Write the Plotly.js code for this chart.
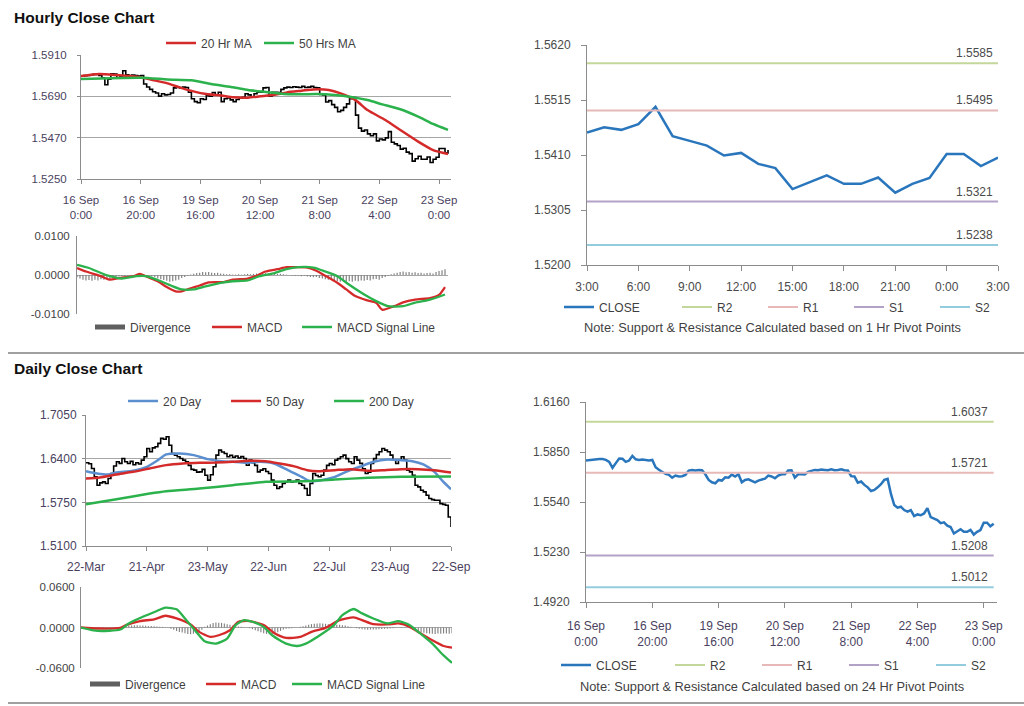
<!DOCTYPE html>
<html><head><meta charset="utf-8">
<script src="https://cdn.plot.ly/plotly-3.0.1.min.js"></script>
<style>html,body{margin:0;padding:0;background:#fff}#chart{width:1024px;height:706px}</style>
</head><body><div id="chart"></div>
<script>
// ---------------- DATA ----------------
// Hourly closes, 16 Sep 0:00 -> 23 Sep 3:00 (trading hours, weekend skipped)
const hourlyClose = [
1.5797,1.5800,1.5801,1.5804,1.5807,1.5806,1.5801,1.5788,1.5752,1.5781,1.5810,1.5808,1.5789,
1.5797,1.5826,1.5805,1.5801,1.5803,1.5800,1.5798,1.5801,1.5756,1.5740,1.5727,1.5714,1.5708,
1.5691,1.5704,1.5698,1.5700,1.5708,1.5735,1.5739,1.5735,1.5739,1.5737,1.5712,1.5677,1.5662,
1.5656,1.5677,1.5673,1.5693,1.5691,1.5710,1.5698,1.5712,1.5662,1.5677,1.5681,1.5671,1.5662,
1.5673,1.5681,1.5685,1.5704,1.5698,1.5687,1.5704,1.5712,1.5712,1.5735,1.5737,1.5691,1.5712,
1.5712,1.5710,1.5727,1.5735,1.5739,1.5737,1.5741,1.5739,1.5737,1.5743,1.5737,1.5739,1.5743,
1.5737,1.5735,1.5700,1.5698,1.5660,1.5667,1.5646,1.5631,1.5608,1.5615,1.5631,1.5650,1.5677,
1.5683,1.5590,1.5521,1.5505,1.5511,1.5490,1.5480,1.5490,
1.5453,1.5463,1.5458,1.5469,1.5502,1.5446,1.5437,1.5428,1.5409,1.5414,1.5393,1.5385,1.5345,
1.5358,1.5371,1.5355,1.5355,1.5367,1.5338,1.5355,1.5366,1.5412,1.5412,1.5389,1.5405];
const hourlyTickText = ['16 Sep<br>0:00','16 Sep<br>20:00','19 Sep<br>16:00','20 Sep<br>12:00','21 Sep<br>8:00','22 Sep<br>4:00','23 Sep<br>0:00'];
const hourlyTickIdx = [0,20,40,60,80,100,120];
const hourlyYTicks = [1.5250,1.5470,1.5690,1.5910];

const hMa20X = [0,6,12,20,24,29,33,38,42,47,51,56,60,65,69,74,78,83,87,92,96,102,107,113,118,123];
const hMa20  = [1.5798,1.5809,1.5803,1.5791,1.5777,1.5759,1.5738,1.5715,1.5702,1.5694,1.5685,1.5683,1.5690,1.5699,1.5711,1.5720,1.5727,1.5724,1.5706,1.5670,1.5617,1.5564,1.5511,1.5449,1.5404,1.5383];
const hMa50X = [0,20,29,37,44,51,56,62,68,74,79,85,90,96,101,107,113,118,123];
const hMa50  = [1.5782,1.5789,1.5780,1.5775,1.5754,1.5738,1.5724,1.5713,1.5702,1.5701,1.5702,1.5697,1.5688,1.5670,1.5647,1.5621,1.5582,1.5543,1.5511];

const hourlyDiv = [
-0.0006,-0.0009,-0.0012,-0.0014,-0.0013,-0.0015,-0.0012,-0.0014,-0.0011,-0.0012,-0.0009,-0.0010,-0.0007,
-0.0005,-0.0004,-0.0003,-0.0004,-0.0002,-0.0001,-0.0002,0.0001,0.0002,0.0001,-0.0001,-0.0002,-0.0004,
-0.0006,-0.0009,-0.0011,-0.0013,-0.0015,-0.0017,-0.0016,-0.0014,-0.0012,-0.0008,-0.0005,-0.0002,0.0001,
0.0003,0.0005,0.0006,0.0008,0.0007,0.0008,0.0006,0.0005,0.0006,0.0004,0.0003,0.0002,0.0002,
0.0001,0.0001,0.0002,0.0001,0.0002,0.0003,0.0002,0.0003,0.0004,0.0005,0.0004,0.0005,0.0004,
0.0005,0.0004,0.0003,0.0003,0.0002,0.0001,0.0000,-0.0001,-0.0002,-0.0001,-0.0003,-0.0002,-0.0004,
-0.0005,-0.0006,-0.0005,-0.0008,-0.0009,-0.0011,-0.0012,-0.0013,-0.0015,-0.0016,-0.0017,-0.0016,-0.0017,
-0.0016,-0.0017,-0.0015,-0.0016,-0.0014,-0.0015,-0.0013,-0.0014,-0.0011,-0.0010,-0.0012,-0.0008,-0.0005,
-0.0002,0.0002,0.0004,0.0006,0.0008,0.0009,0.0007,0.0008,0.0006,0.0007,0.0005,0.0006,0.0004,
0.0005,0.0006,0.0004,0.0008,0.0010,0.0012,0.0015];
const hMacdX = [0,3,8,11,14,19,21,23,27,30,33,35,38,41,44,49,52,57,60,63,67,70,73,77,80,83,87,90,93,97,100,102,106,109,113,118,121,123];
const hMacd  = [0.0018,0.0009,-0.0003,-0.0012,-0.0008,-0.0003,0.0003,-0.0003,-0.0016,-0.0031,-0.0042,-0.0042,-0.0034,-0.0027,-0.0019,-0.0018,-0.0012,-0.0009,-0.0002,0.0009,0.0015,0.0020,0.0020,0.0019,0.0011,-0.0002,-0.0020,-0.0037,-0.0054,-0.0065,-0.0071,-0.0089,-0.0080,-0.0070,-0.0063,-0.0059,-0.0051,-0.0031];
const hSignalX = [0,4,8,11,15,20,23,28,32,35,39,43,48,52,57,61,66,70,74,79,83,87,91,96,100,104,109,113,118,123];
const hSignal  = [0.0026,0.0018,0.0005,-0.0003,-0.0009,-0.0003,-0.0003,-0.0016,-0.0029,-0.0037,-0.0037,-0.0029,-0.0020,-0.0016,-0.0014,-0.0003,0.0005,0.0015,0.0020,0.0019,0.0009,-0.0003,-0.0025,-0.0050,-0.0067,-0.0080,-0.0080,-0.0071,-0.0063,-0.0050];
const hMacdTicks = [-0.01,0,0.01];
const hMacdTickText = ['-0.0100','0.0000','0.0100'];

// Last 24 hours (22 Sep 3:00 -> 23 Sep 3:00)
const hourTickIdx = [0,3,6,9,12,15,18,21,24];
const hourTickText = ['3:00','6:00','9:00','12:00','15:00','18:00','21:00','0:00','3:00'];
const lastDayYTicks = [1.5200,1.5305,1.5410,1.5515,1.5620];
const pivotNames = ['R2','R1','S1','S2'];
const pivotHourly = [1.5585,1.5495,1.5321,1.5238];
const pivotDaily  = [1.6037,1.5721,1.5208,1.5012];
const weekYTicks = [1.4920,1.5230,1.5540,1.5850,1.6160];

// Daily closes, 22-Mar -> 22-Sep
const dailyClose = [
1.6339,1.6325,1.6253,1.6130,1.6005,1.6040,1.6055,1.6030,1.6105,1.6179,1.6290,1.6353,1.6330,1.6403,
1.6353,1.6329,1.6360,1.6310,1.6340,1.6320,1.6378,1.6428,1.6552,1.6503,1.6560,1.6577,1.6627,1.6702,
1.6690,1.6726,1.6600,1.6478,1.6450,1.6428,1.6403,1.6378,1.6353,1.6300,1.6240,1.6229,1.6200,1.6204,
1.6240,1.6154,1.6080,1.6160,1.6279,1.6453,1.6527,1.6500,1.6478,1.6428,1.6450,1.6420,1.6440,1.6410,
1.6430,1.6403,1.6303,1.6378,1.6340,1.6300,1.6204,1.6229,1.6250,1.6210,1.6179,1.6080,1.6005,1.5955,
1.5980,1.6030,1.6055,1.6080,1.6055,1.6060,1.6080,1.6030,1.6005,1.5955,1.5856,1.6030,1.6179,1.6150,
1.6130,1.6154,1.6229,1.6300,1.6329,1.6310,1.6378,1.6400,1.6428,1.6453,1.6400,1.6353,1.6329,1.6428,
1.6378,1.6330,1.6250,1.6179,1.6200,1.6329,1.6400,1.6460,1.6503,1.6552,1.6527,1.6503,1.6453,1.6378,
1.6329,1.6380,1.6428,1.6378,1.6229,1.6204,1.6154,1.6005,1.5980,1.5930,1.5906,1.5856,1.5806,1.5790,
1.5781,1.5781,1.5731,1.5720,1.5706,1.5532,1.5383];
const dailyTickText = ['22-Mar','21-Apr','23-May','22-Jun','22-Jul','23-Aug','22-Sep'];
const dailyTickIdx = [0,22,44,66,88,110,132];
const dailyYTicks = [1.5100,1.5750,1.6400,1.7050];

const d20X = [0,4,8,11,17,22,26,29,34,39,44,49,53,58,63,68,73,78,81,85,90,94,99,104,109,114,118,122,126,129,132];
const d20  = [1.6214,1.6179,1.6164,1.6194,1.6219,1.6279,1.6378,1.6463,1.6478,1.6453,1.6393,1.6363,1.6353,1.6339,1.6353,1.6328,1.6229,1.6130,1.6065,1.6080,1.6130,1.6204,1.6279,1.6353,1.6388,1.6378,1.6363,1.6314,1.6204,1.6065,1.5945];
const d50X = [0,5,11,17,23,29,35,41,47,53,59,65,70,75,80,84,90,96,102,108,114,120,126,132];
const d50  = [1.6105,1.6120,1.6164,1.6204,1.6254,1.6304,1.6328,1.6339,1.6343,1.6353,1.6368,1.6363,1.6328,1.6289,1.6229,1.6214,1.6229,1.6244,1.6219,1.6229,1.6244,1.6244,1.6229,1.6194];
const d200X = [0,11,23,29,41,53,65,78,90,102,114,132];
const d200  = [1.5722,1.5796,1.5881,1.5916,1.5955,1.6005,1.6055,1.6065,1.6090,1.6115,1.6130,1.6135];

const dailyDiv = [
-0.0015,-0.0020,-0.0025,-0.0022,-0.0028,-0.0025,-0.0020,-0.0022,-0.0018,-0.0015,-0.0012,-0.0010,-0.0008,-0.0005,
0.0005,0.0010,0.0018,0.0025,0.0030,0.0032,0.0035,0.0030,0.0028,0.0025,0.0020,0.0022,0.0018,0.0015,0.0012,0.0010,0.0005,0.0000,
-0.0020,-0.0035,-0.0050,-0.0065,-0.0075,-0.0085,-0.0095,-0.0100,-0.0092,-0.0080,-0.0060,-0.0035,
0.0010,0.0030,0.0050,0.0065,0.0075,0.0072,0.0068,0.0060,0.0050,0.0040,0.0030,
0.0020,0.0015,0.0010,0.0005,0.0000,-0.0010,-0.0025,-0.0040,-0.0055,-0.0070,-0.0085,
-0.0095,-0.0100,-0.0095,-0.0085,-0.0070,-0.0050,-0.0030,
-0.0020,-0.0015,-0.0010,-0.0005,0.0000,0.0010,
0.0020,0.0030,0.0040,0.0050,0.0055,0.0060,0.0062,0.0058,0.0055,0.0050,0.0048,
0.0045,0.0042,0.0040,0.0035,0.0030,0.0020,0.0010,0.0000,
-0.0010,-0.0020,-0.0025,-0.0030,-0.0032,-0.0030,-0.0028,-0.0030,-0.0025,-0.0022,-0.0020,-0.0018,-0.0015,-0.0010,-0.0005,
0.0000,0.0005,0.0003,0.0000,-0.0010,
-0.0030,-0.0045,-0.0060,-0.0070,-0.0078,-0.0085,-0.0090,-0.0092,-0.0095,-0.0090,-0.0093,-0.0088,-0.0090,-0.0092,-0.0085];
const dMacdX = [0,6,14,16,21,26,30,34,39,42,46,49,53,56,60,65,69,73,78,82,87,92,97,100,104,109,113,117,120,125,129,132];
const dMacd  = [0,-0.0015,-0.0005,0.0035,0.0095,0.0120,0.0174,0.0134,0.0045,-0.0065,-0.0139,-0.0115,-0.0040,0.0085,0.0095,0.0035,-0.0090,-0.0154,-0.0139,-0.0065,-0.0005,0.0110,0.0149,0.0110,0.0050,0.0045,0.0060,0.0010,-0.0065,-0.0189,-0.0274,-0.0299];
const dSignalX = [0,6,14,17,22,27,30,34,37,41,44,48,52,55,58,61,65,68,73,77,80,85,90,93,97,100,104,109,113,117,120,125,129,132];
const dSignal  = [0,-0.0050,-0.0030,0.0060,0.0159,0.0244,0.0294,0.0269,0.0134,-0.0065,-0.0204,-0.0239,-0.0164,0.0035,0.0110,0.0085,0.0010,-0.0115,-0.0239,-0.0274,-0.0239,-0.0115,0.0035,0.0184,0.0274,0.0209,0.0134,0.0060,0.0095,0.0035,-0.0065,-0.0239,-0.0413,-0.0523];
const dMacdTicks = [-0.06,0,0.06];
const dMacdTickText = ['-0.0600','0.0000','0.0600'];

// ---------------- STYLE / LAYOUT HELPERS ----------------
const W = 1024, H = 706;
const dx = (a, b) => [a / W, b / W];
const dy = (top, bottom) => [1 - bottom / H, 1 - top / H];
const FONT = 'Liberation Sans, Arial, sans-serif';
const AX = '#8c8c8c', GRID = '#a6a6a6', LTXT = '#4a3f5e', RTXT = '#4a4a4a', LEG = '#3f3f3f';
const C = {red:'#d42a2a', green:'#2bb24c', blue20:'#5b8fd0', close:'#2a76bd', div:'#808080',
           R2:'#c4d79b', R1:'#e6b9b8', S1:'#b3a2c7', S2:'#93cddd'};
const pivotColors = [C.R2, C.R1, C.S1, C.S2];
const idx = arr => arr.map((_, i) => i);

const hourlyIdx = idx(hourlyClose);
const lastDay = hourlyClose.slice(-25);
const lastDayIdx = idx(lastDay);
const dailyIdx = idx(dailyClose);

const traces = [];
// Hourly close chart
traces.push({x: hourlyIdx, y: hourlyClose, xaxis:'x', yaxis:'y', mode:'lines', line:{color:'#000', width:1.6, shape:'hv'}, showlegend:false, hoverinfo:'skip'});
traces.push({x: hMa20X, y: hMa20, xaxis:'x', yaxis:'y', mode:'lines', name:'20 Hr MA', line:{color:C.red, width:2.5, shape:'spline', smoothing:0.6}, legend:'legend'});
traces.push({x: hMa50X, y: hMa50, xaxis:'x', yaxis:'y', mode:'lines', name:'50 Hrs MA', line:{color:C.green, width:2.5, shape:'spline', smoothing:0.6}, legend:'legend'});
// Hourly MACD
traces.push({type:'bar', x: hourlyIdx, y: hourlyDiv, xaxis:'x2', yaxis:'y2', width:0.4, marker:{color:C.div}, showlegend:false, hoverinfo:'skip'});
traces.push({x:[null], y:[null], xaxis:'x2', yaxis:'y2', mode:'lines', name:'Divergence', line:{color:'#5f5f5f', width:5}, legend:'legend2'});
traces.push({x: hMacdX, y: hMacd, xaxis:'x2', yaxis:'y2', mode:'lines', name:'MACD', line:{color:C.red, width:2.3, shape:'spline', smoothing:0.6}, legend:'legend3'});
traces.push({x: hSignalX, y: hSignal, xaxis:'x2', yaxis:'y2', mode:'lines', name:'MACD Signal Line', line:{color:C.green, width:2.3, shape:'spline', smoothing:0.6}, legend:'legend11'});
// Top right: last day + hourly pivots
traces.push({x: lastDayIdx, y: lastDay, xaxis:'x3', yaxis:'y3', mode:'lines', name:'CLOSE', line:{color:C.close, width:2.5}, legend:'legend4'});
pivotNames.forEach((n, k) => traces.push({x:[0, lastDayIdx.length - 1], y:[pivotHourly[k], pivotHourly[k]], xaxis:'x3', yaxis:'y3', mode:'lines', name:n, line:{color:pivotColors[k], width:2}, legend:'legend5'}));
// Daily close chart
traces.push({x: dailyIdx, y: dailyClose, xaxis:'x4', yaxis:'y4', mode:'lines', line:{color:'#000', width:1.6, shape:'hv'}, showlegend:false, hoverinfo:'skip'});
traces.push({x: d20X, y: d20, xaxis:'x4', yaxis:'y4', mode:'lines', name:'20 Day', line:{color:C.blue20, width:2.5, shape:'spline', smoothing:0.6}, legend:'legend6'});
traces.push({x: d50X, y: d50, xaxis:'x4', yaxis:'y4', mode:'lines', name:'50 Day', line:{color:C.red, width:2.5, shape:'spline', smoothing:0.6}, legend:'legend6'});
traces.push({x: d200X, y: d200, xaxis:'x4', yaxis:'y4', mode:'lines', name:'200 Day', line:{color:C.green, width:2.5, shape:'spline', smoothing:0.6}, legend:'legend6'});
// Daily MACD
traces.push({type:'bar', x: dailyIdx, y: dailyDiv, xaxis:'x5', yaxis:'y5', width:0.4, marker:{color:C.div}, showlegend:false, hoverinfo:'skip'});
traces.push({x:[null], y:[null], xaxis:'x5', yaxis:'y5', mode:'lines', name:'Divergence', line:{color:'#5f5f5f', width:5}, legend:'legend7'});
traces.push({x: dMacdX, y: dMacd, xaxis:'x5', yaxis:'y5', mode:'lines', name:'MACD', line:{color:C.red, width:2.3, shape:'spline', smoothing:0.6}, legend:'legend8'});
traces.push({x: dSignalX, y: dSignal, xaxis:'x5', yaxis:'y5', mode:'lines', name:'MACD Signal Line', line:{color:C.green, width:2.3, shape:'spline', smoothing:0.6}, legend:'legend12'});
// Bottom right: hourly close + daily pivots
traces.push({x: hourlyIdx, y: hourlyClose, xaxis:'x6', yaxis:'y6', mode:'lines', name:'CLOSE', line:{color:C.close, width:2.5}, legend:'legend9'});
pivotNames.forEach((n, k) => traces.push({x:[0, hourlyIdx.length - 1], y:[pivotDaily[k], pivotDaily[k]], xaxis:'x6', yaxis:'y6', mode:'lines', name:n, line:{color:pivotColors[k], width:2}, legend:'legend10'}));

// axis builders
function xAx(domain, anchor, range, tickvals, ticktext, color, size, extra) {
  return Object.assign({domain, anchor, range, tickvals, ticktext, tickmode:'array', showgrid:false, zeroline:false,
    showline:true, linecolor:AX, linewidth:1, ticks:'outside', ticklen:4, tickcolor:AX,
    tickfont:{family:FONT, size, color}, fixedrange:true}, extra || {});
}
function yAx(domain, anchor, range, tickvals, grid, color, size, extra) {
  return Object.assign({domain, anchor, range, tickvals, tickmode:'array', tickformat:'.4f', showgrid:grid, gridcolor:GRID, gridwidth:1,
    zeroline:false, showline:true, linecolor:AX, linewidth:1, ticks:'outside', ticklen:3, tickcolor:AX,
    tickfont:{family:FONT, size, color}, fixedrange:true}, extra || {});
}
function leg(x, y, extra) {
  return Object.assign({x: x / W, y: 1 - y / H, xanchor:'left', yanchor:'middle', orientation:'h', xref:'paper', yref:'paper',
    bgcolor:'rgba(0,0,0,0)', borderwidth:0, font:{family:FONT, size:12, color:LEG}, itemclick:false, itemdoubleclick:false,
    tracegroupgap:0}, extra || {});
}

const annotations = [];
annotations.push({xref:'paper', yref:'paper', x:12/W, y:1-17/H, xanchor:'left', yanchor:'middle', showarrow:false, text:'<b>Hourly Close Chart</b>', font:{family:FONT, size:15.5, color:'#111'}});
annotations.push({xref:'paper', yref:'paper', x:12/W, y:1-369/H, xanchor:'left', yanchor:'middle', showarrow:false, text:'<b>Daily Close Chart</b>', font:{family:FONT, size:15.5, color:'#111'}});
pivotHourly.forEach(v => annotations.push({xref:'x3', yref:'y3', x:lastDayIdx.length - 1, y:v, xanchor:'right', yanchor:'bottom', xshift:-3, yshift:1, showarrow:false, text:v.toFixed(4), font:{family:FONT, size:12, color:RTXT}}));
pivotDaily.forEach(v => annotations.push({xref:'x6', yref:'y6', x:hourlyIdx.length - 1, y:v, xanchor:'right', yanchor:'bottom', xshift:-4, yshift:1, showarrow:false, text:v.toFixed(4), font:{family:FONT, size:12, color:RTXT}}));
annotations.push({xref:'paper', yref:'paper', x:772/W, y:1-327/H, xanchor:'center', yanchor:'middle', showarrow:false, text:'Note: Support & Resistance Calculated based on 1 Hr Pivot Points', font:{family:FONT, size:12.8, color:LEG}});
annotations.push({xref:'paper', yref:'paper', x:772/W, y:1-686/H, xanchor:'center', yanchor:'middle', showarrow:false, text:'Note: Support & Resistance Calculated based on 24 Hr Pivot Points', font:{family:FONT, size:12.8, color:LEG}});

const layout = {
  width: W, height: H, margin:{l:0, r:0, t:0, b:0}, paper_bgcolor:'#fff', plot_bgcolor:'#fff',
  font:{family:FONT, size:11, color:LTXT}, hovermode:false, barmode:'overlay',
  xaxis:  xAx(dx(81,451), 'y', [0,124], hourlyTickIdx, hourlyTickText, LTXT, 11.5, {ticklabelstandoff:6}),
  yaxis:  yAx(dy(55,179), 'x', [1.525,1.591], hourlyYTicks, true, LTXT, 11.5, {ticklabelstandoff:8}),
  xaxis2: xAx(dx(77,448), 'y2', [0,124], [], [], LTXT, 11, {showline:false, ticks:'', showticklabels:false}),
  yaxis2: yAx(dy(236,314), 'x2', [-0.01,0.01], hMacdTicks, true, '#3f3f3f', 11.5, {ticktext:hMacdTickText, ticks:'', ticklabelstandoff:4}),
  xaxis3: xAx(dx(587,998), 'y3', [0,24], hourTickIdx, hourTickText, RTXT, 12, {ticklen:5, ticklabelstandoff:6}),
  yaxis3: yAx(dy(45,265), 'x3', [1.52,1.562], lastDayYTicks, false, RTXT, 12, {ticklen:5, ticklabelstandoff:8}),
  xaxis4: xAx(dx(86,451), 'y4', [0,132], dailyTickIdx, dailyTickText, LTXT, 12, {ticklabelstandoff:6}),
  yaxis4: yAx(dy(415,546), 'x4', [1.51,1.705], dailyYTicks, true, LTXT, 12, {ticklen:3, ticklabelstandoff:3}),
  xaxis5: xAx(dx(81,452), 'y5', [0,132], [], [], LTXT, 11, {showline:false, ticks:'', showticklabels:false}),
  yaxis5: yAx(dy(587,668), 'x5', [-0.06,0.06], dMacdTicks, true, '#3f3f3f', 11.5, {ticktext:dMacdTickText, ticks:'', ticklabelstandoff:3}),
  xaxis6: xAx(dx(586,997), 'y6', [0,124], hourlyTickIdx, hourlyTickText, LTXT, 12, {ticklen:5, ticklabelstandoff:8}),
  yaxis6: yAx(dy(402,602), 'x6', [1.492,1.616], weekYTicks, false, RTXT, 12, {ticklen:5, ticklabelstandoff:8}),
  legend:   leg(161, 43, {entrywidth:53}),
  legend2:  leg(90, 327),
  legend3:  leg(207, 327),
  legend11: leg(297, 327),
  legend4:  leg(559, 307),
  legend5:  leg(677, 307, {entrywidth:41}),
  legend6:  leg(123, 401, {entrywidth:58}),
  legend7:  leg(85, 684),
  legend8:  leg(201, 684),
  legend12: leg(287, 684),
  legend9:  leg(556, 665),
  legend10: leg(670, 665, {entrywidth:42}),
  shapes: [
    {type:'line', xref:'paper', yref:'paper', x0:8/W, x1:1, y0:1-353/H, y1:1-353/H, line:{color:'#a0a0a0', width:2}},
    {type:'line', xref:'paper', yref:'paper', x0:8/W, x1:1, y0:1-703/H, y1:1-703/H, line:{color:'#a0a0a0', width:2}}
  ],
  annotations
};

Plotly.newPlot('chart', traces, layout, {displayModeBar:false, staticPlot:true});
</script></body></html>
